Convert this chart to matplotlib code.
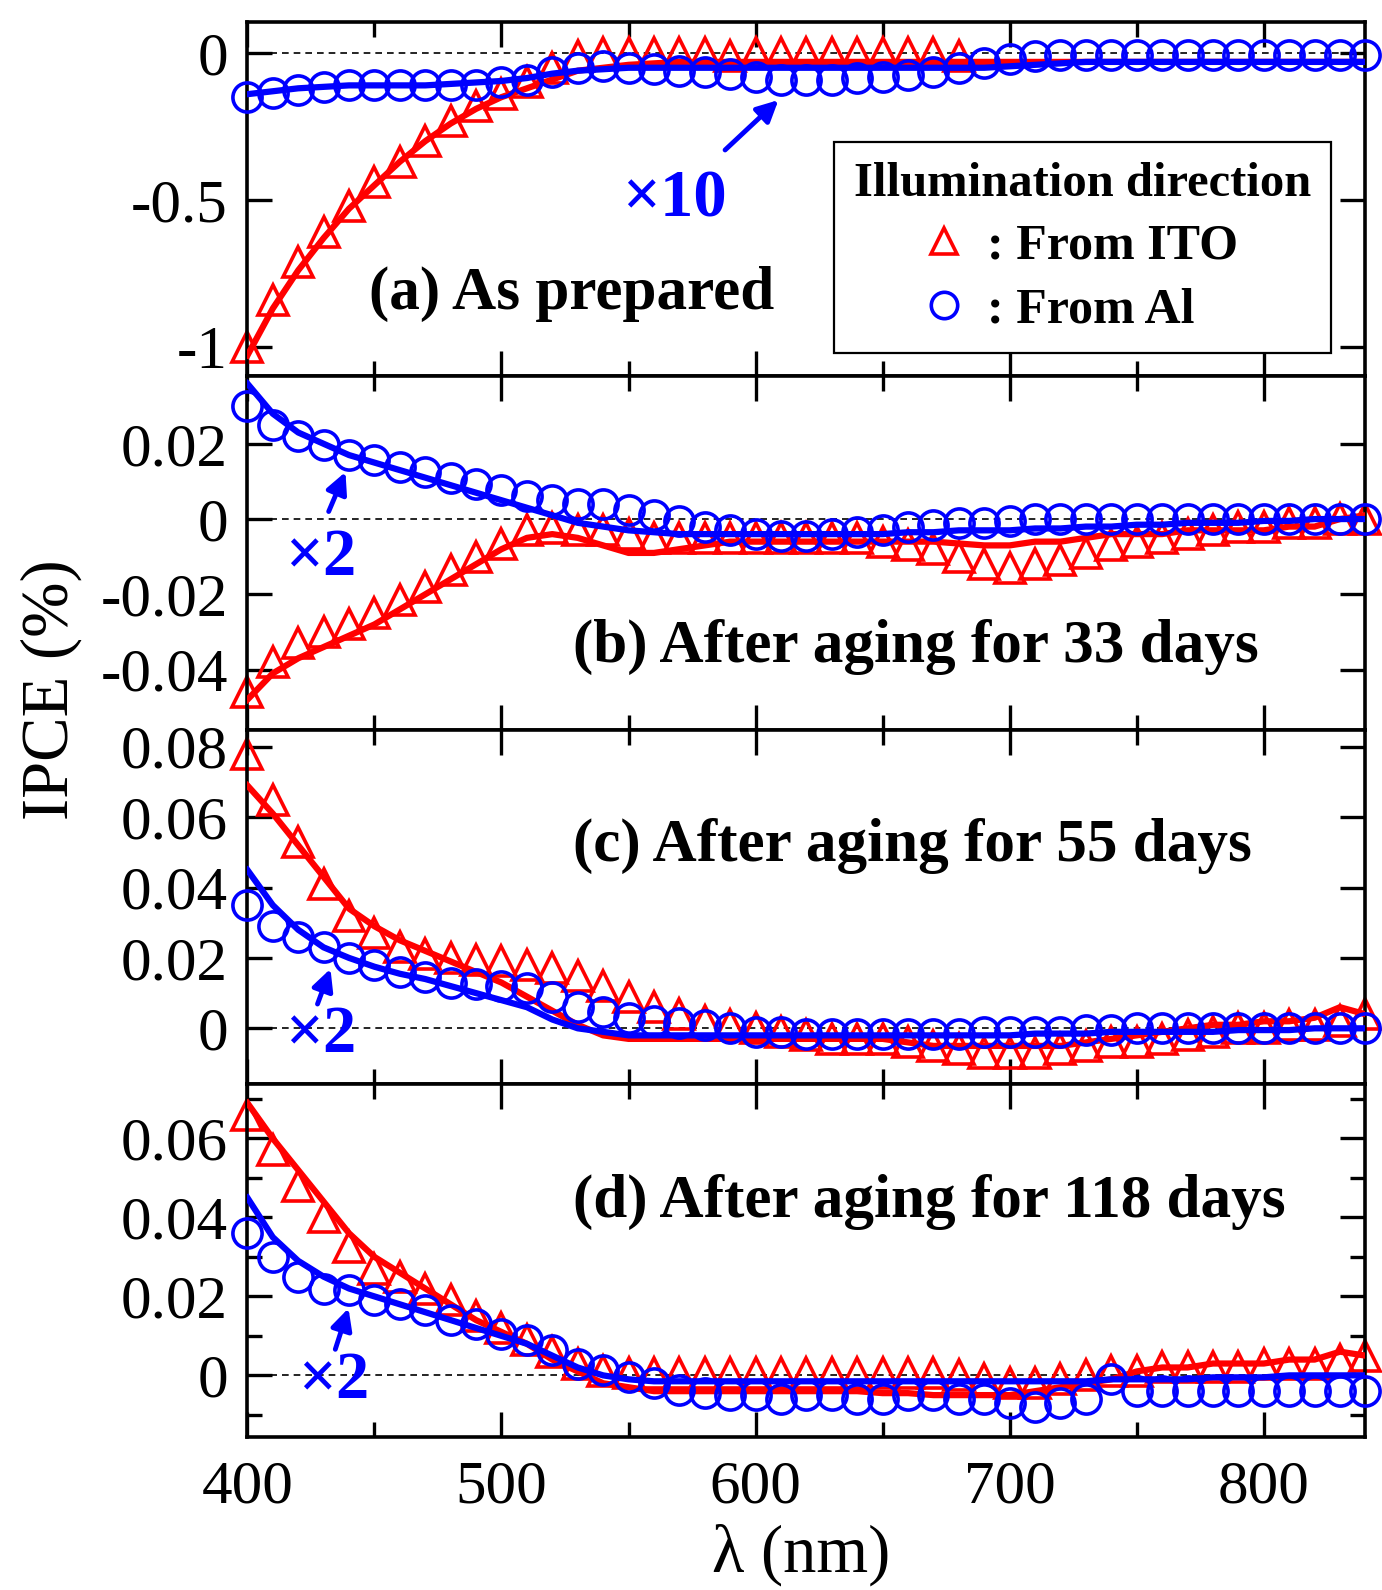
import numpy as np
import matplotlib
matplotlib.use('Agg')
import matplotlib.pyplot as plt
from matplotlib.lines import Line2D
from matplotlib.ticker import FixedLocator, MultipleLocator

plt.rcParams['font.family'] = ['Liberation Serif', 'DejaVu Serif']
plt.rcParams['axes.unicode_minus'] = False

# wavelength grid (nm)
wl = np.arange(400, 841, 10)
nan = np.nan

# (a) as prepared -- Al curve scaled x10 (ITO points beyond 680 nm hidden under the Al ones)
a_ito_pts = [-1.00, -0.84, -0.71, -0.61, -0.52, -0.44, -0.37, -0.30, -0.23, -0.18,
             -0.14, -0.10, -0.05, -0.01, 0.00, 0.00, 0.00, 0.00, 0.00, -0.01,
             0.00, 0.00, 0.00, 0.00, 0.00, 0.00, 0.00, 0.00, -0.01, nan,
             nan, nan, nan, nan, nan, nan, nan, nan, nan, nan,
             nan, nan, nan, nan, nan]
a_ito_fit = [-1.03, -0.87, -0.74, -0.63, -0.53, -0.45, -0.37, -0.30, -0.24, -0.19,
             -0.15, -0.12, -0.09, -0.06, -0.05, -0.04, -0.035, -0.03, -0.03, -0.03,
             -0.03, -0.03, -0.03, -0.03, -0.03, -0.03, -0.03, -0.03, -0.03, -0.03,
             -0.03, -0.03, -0.03, -0.03, -0.03, -0.03, -0.03, -0.03, -0.03, -0.03,
             -0.03, -0.03, -0.03, -0.03, -0.03]
a_al_pts = [-0.15, -0.135, -0.125, -0.115, -0.11, -0.11, -0.11, -0.11, -0.11, -0.11,
            -0.10, -0.09, -0.065, -0.05, -0.045, -0.05, -0.055, -0.06, -0.065, -0.07,
            -0.08, -0.09, -0.09, -0.09, -0.085, -0.08, -0.075, -0.065, -0.05, -0.035,
            -0.02, -0.01, -0.005, -0.005, -0.005, -0.005, -0.005, -0.005, -0.005, -0.005,
            -0.005, -0.005, -0.005, -0.005, -0.005]
a_al_fit = [-0.14, -0.13, -0.12, -0.115, -0.11, -0.11, -0.11, -0.11, -0.105, -0.10,
            -0.095, -0.085, -0.07, -0.06, -0.055, -0.05, -0.05, -0.05, -0.05, -0.05,
            -0.05, -0.05, -0.05, -0.05, -0.05, -0.05, -0.05, -0.05, -0.05, -0.05,
            -0.045, -0.04, -0.035, -0.03, -0.03, -0.03, -0.03, -0.03, -0.03, -0.03,
            -0.03, -0.03, -0.03, -0.03, -0.03]

# (b) 33 days -- Al x2
b_ito_pts = [-0.046, -0.038, -0.033, -0.030, -0.028, -0.025, -0.0215, -0.018, -0.0135, -0.010,
             -0.0065, -0.003, -0.0025, -0.003, -0.003, -0.004, -0.005, -0.005, -0.005, -0.005,
             -0.005, -0.005, -0.005, -0.005, -0.005, -0.006, -0.007, -0.008, -0.010, -0.012,
             -0.013, -0.012, -0.011, -0.009, -0.007, -0.006, -0.005, -0.004, -0.003, -0.002,
             -0.002, -0.001, -0.001, 0.000, 0.000]
b_ito_fit = [-0.048, -0.041, -0.037, -0.034, -0.031, -0.028, -0.024, -0.020, -0.016, -0.012,
             -0.008, -0.005, -0.004, -0.005, -0.007, -0.009, -0.009, -0.008, -0.007, -0.006,
             -0.006, -0.006, -0.006, -0.006, -0.006, -0.006, -0.006, -0.006, -0.0065, -0.007,
             -0.007, -0.006, -0.006, -0.005, -0.004, -0.004, -0.004, -0.003, -0.003, -0.003,
             -0.003, -0.002, -0.002, 0.000, 0.001]
b_al_pts = [0.030, 0.025, 0.022, 0.0197, 0.017, 0.0157, 0.0138, 0.0124, 0.011, 0.0092,
            0.0078, 0.0062, 0.005, 0.004, 0.004, 0.0025, 0.001, -0.0005, -0.002, -0.003,
            -0.004, -0.0045, -0.0045, -0.004, -0.0035, -0.003, -0.002, -0.0015, -0.001, -0.001,
            -0.0005, 0.0, 0.0, 0.0, 0.0, 0.0, 0.0, 0.0, 0.0, 0.0,
            0.0, 0.0, 0.0, 0.0, 0.0]
b_al_fit = [0.036, 0.028, 0.023, 0.020, 0.017, 0.015, 0.013, 0.011, 0.009, 0.007,
            0.005, 0.003, 0.001, -0.001, -0.002, -0.003, -0.0035, -0.004, -0.004, -0.004,
            -0.004, -0.004, -0.004, -0.004, -0.004, -0.004, -0.0035, -0.0035, -0.003, -0.003,
            -0.003, -0.0025, -0.0025, -0.002, -0.002, -0.0015, -0.0015, -0.001, -0.001, -0.001,
            -0.0005, -0.0005, 0.0, 0.0, 0.0]

# (c) 55 days -- Al x2
c_ito_pts = [0.078, 0.065, 0.053, 0.041, 0.032, 0.027, 0.023, 0.021, 0.020, 0.0195,
             0.019, 0.018, 0.017, 0.015, 0.012, 0.009, 0.006, 0.004, 0.002, 0.001,
             0.000, -0.001, -0.002, -0.003, -0.003, -0.003, -0.004, -0.005, -0.006, -0.007,
             -0.007, -0.007, -0.006, -0.005, -0.004, -0.004, -0.003, -0.002, -0.001, 0.000,
             0.000, 0.001, 0.001, 0.002, 0.004]
c_ito_fit = [0.069, 0.061, 0.052, 0.043, 0.034, 0.029, 0.025, 0.022, 0.019, 0.016,
             0.013, 0.009, 0.005, 0.001, -0.002, -0.003, -0.003, -0.003, -0.003, -0.003,
             -0.003, -0.003, -0.003, -0.003, -0.003, -0.003, -0.004, -0.005, -0.005, -0.005,
             -0.005, -0.005, -0.005, -0.004, -0.003, -0.002, -0.001, 0.000, 0.001, 0.001,
             0.002, 0.002, 0.003, 0.006, 0.004]
c_al_pts = [0.035, 0.029, 0.026, 0.023, 0.020, 0.018, 0.016, 0.0146, 0.0128, 0.0125,
            0.012, 0.0115, 0.009, 0.006, 0.0045, 0.003, 0.002, 0.0015, 0.001, 0.000,
            -0.001, -0.001, -0.0015, -0.0015, -0.0015, -0.0015, -0.0015, -0.0015, -0.0015, -0.001,
            -0.001, -0.001, -0.001, -0.0005, -0.0005, 0.0, 0.0, 0.0, 0.0, 0.0,
            0.0, 0.0, 0.0, 0.0, 0.0]
c_al_fit = [0.045, 0.035, 0.028, 0.023, 0.020, 0.0175, 0.0155, 0.014, 0.012, 0.010,
            0.008, 0.006, 0.0025, 0.000, -0.001, -0.002, -0.002, -0.002, -0.002, -0.002,
            -0.002, -0.002, -0.002, -0.002, -0.002, -0.002, -0.002, -0.002, -0.002, -0.002,
            -0.002, -0.0015, -0.0015, -0.0015, -0.001, -0.001, -0.001, -0.001, -0.001, -0.0005,
            -0.0005, -0.0005, 0.0, 0.0, 0.0]

# (d) 118 days -- Al x2
d_ito_pts = [0.066, 0.057, 0.048, 0.040, 0.0325, 0.027, 0.025, 0.022, 0.019, 0.015,
             0.012, 0.009, 0.006, 0.003, 0.001, 0.0005, 0.0005, 0.0005, 0.0005, 0.0005,
             0.0005, 0.0005, 0.0005, 0.0005, 0.0005, 0.0005, 0.0005, 0.0005, 0.000, -0.001,
             -0.002, -0.002, -0.001, 0.000, 0.001, 0.001, 0.002, 0.002, 0.002, 0.002,
             0.003, 0.003, 0.003, 0.004, 0.005]
d_ito_fit = [0.069, 0.060, 0.052, 0.044, 0.036, 0.030, 0.026, 0.022, 0.018, 0.014,
             0.011, 0.008, 0.004, 0.001, -0.002, -0.003, -0.004, -0.004, -0.004, -0.004,
             -0.004, -0.004, -0.004, -0.004, -0.004, -0.0045, -0.0045, -0.005, -0.005, -0.005,
             -0.005, -0.004, -0.003, -0.002, -0.001, 0.001, 0.002, 0.002, 0.003, 0.003,
             0.003, 0.004, 0.004, 0.006, 0.005]
d_al_pts = [0.036, 0.030, 0.025, 0.022, 0.0215, 0.019, 0.018, 0.0165, 0.014, 0.013,
            0.0106, 0.009, 0.0063, 0.003, 0.0013, -0.0005, -0.002, -0.0038, -0.0045, -0.005,
            -0.005, -0.006, -0.005, -0.005, -0.006, -0.006, -0.005, -0.005, -0.006, -0.006,
            -0.007, -0.008, -0.007, -0.006, -0.001, -0.004, -0.004, -0.004, -0.004, -0.004,
            -0.004, -0.004, -0.004, -0.004, -0.004]
d_al_fit = [0.045, 0.035, 0.029, 0.025, 0.022, 0.020, 0.018, 0.016, 0.014, 0.012,
            0.010, 0.008, 0.005, 0.002, 0.000, -0.001, -0.0015, -0.0015, -0.0015, -0.0015,
            -0.0015, -0.0015, -0.0015, -0.0015, -0.0015, -0.0015, -0.0015, -0.0015, -0.0015, -0.0015,
            -0.0015, -0.0015, -0.0015, -0.0015, -0.001, -0.001, -0.001, -0.001, -0.0005, -0.0005,
            -0.0005, 0.0, 0.0, 0.0, 0.0]

panel_titles = ['(a) As prepared', '(b) After aging for 33 days',
                '(c) After aging for 55 days', '(d) After aging for 118 days']
scale_labels = ['×10', '×2', '×2', '×2']
ylims = [(-1.1, 0.105), (-0.056, 0.038), (-0.0157, 0.0848), (-0.0157, 0.0739)]
yticks = [[-1, -0.5, 0], [-0.04, -0.02, 0, 0.02], [0, 0.02, 0.04, 0.06, 0.08], [0, 0.02, 0.04, 0.06]]
yticklabels = [['-1', '-0.5', '0'], ['-0.04', '-0.02', '0', '0.02'],
               ['0', '0.02', '0.04', '0.06', '0.08'], ['0', '0.02', '0.04', '0.06']]
xticks = [400, 500, 600, 700, 800]

series = [(a_ito_pts, a_ito_fit, a_al_pts, a_al_fit),
          (b_ito_pts, b_ito_fit, b_al_pts, b_al_fit),
          (c_ito_pts, c_ito_fit, c_al_pts, c_al_fit),
          (d_ito_pts, d_ito_fit, d_al_pts, d_al_fit)]

# text / arrow placement in data coords
title_pos = [(448, -0.82), (528, -0.0341), (528, 0.0517), (528, 0.0438)]
scale_pos = [(568, -0.50), (429, -0.0104), (429, -0.002), (434, -0.0015)]
arrow_tail = [(588, -0.33), (432, 0.002), (427.6, 0.0069), (434.6, 0.0066)]
arrow_tip = [(609, -0.16), (438.6, 0.0125), (432.7, 0.0169), (439.8, 0.017)]

RED = '#ff0000'
BLUE = '#0000ff'
ms = 21
mew = 2.6

fig, axes = plt.subplots(4, 1, sharex=True, figsize=(13.82, 15.90), dpi=100)
fig.subplots_adjust(left=0.179, right=0.988, top=0.986, bottom=0.096, hspace=0)

for i, ax in enumerate(axes):
    ito_p, ito_f, al_p, al_f = series[i]
    ax.axhline(0, color='black', lw=1.2, ls=(0, (4, 3)), zorder=1)
    ax.plot(wl, ito_p, ls='none', marker='^', ms=ms, mfc='none', mec=RED, mew=mew, zorder=2, clip_on=False)
    ax.plot(wl, ito_f, color=RED, lw=4.5, zorder=3)
    ax.plot(wl, al_p, ls='none', marker='o', ms=ms, mfc='none', mec=BLUE, mew=mew, zorder=4, clip_on=False)
    ax.plot(wl, al_f, color=BLUE, lw=4.5, zorder=5)

    ax.set_xlim(400, 840)
    ax.set_ylim(*ylims[i])
    ax.yaxis.set_major_locator(FixedLocator(yticks[i]))
    ax.set_yticklabels(yticklabels[i])
    ax.xaxis.set_major_locator(FixedLocator(xticks))
    ax.xaxis.set_minor_locator(MultipleLocator(50))
    if i == 3:
        ax.yaxis.set_minor_locator(MultipleLocator(0.01))
    ax.tick_params(which='both', direction='in', top=True, right=True, labelsize=44, width=2.4)
    ax.tick_params(which='major', length=18)
    ax.tick_params(which='minor', length=11)
    ax.tick_params(axis='y', pad=14)
    ax.tick_params(axis='x', pad=16)
    for sp in ax.spines.values():
        sp.set_linewidth(2.6)

    ax.text(title_pos[i][0], title_pos[i][1], panel_titles[i], fontsize=44, fontweight='bold',
            ha='left', va='center', zorder=6)
    ax.text(scale_pos[i][0], scale_pos[i][1], scale_labels[i], fontsize=48, fontweight='bold',
            color=BLUE, ha='center', va='center', zorder=6)
    ax.annotate('', xy=arrow_tip[i], xytext=arrow_tail[i],
                arrowprops=dict(arrowstyle='-|>', color=BLUE, lw=3.5, mutation_scale=32,
                                shrinkA=0, shrinkB=0), zorder=6)

handles = [Line2D([], [], ls='none', marker='^', ms=19, mfc='none', mec=RED, mew=2.6),
           Line2D([], [], ls='none', marker='o', ms=19, mfc='none', mec=BLUE, mew=2.6)]
leg = axes[0].legend(handles, [': From ITO', ': From Al'], title='Illumination direction',
                     loc='upper right', bbox_to_anchor=(0.969, 0.661), borderaxespad=0,
                     prop={'weight': 'bold', 'size': 36},
                     title_fontproperties={'weight': 'bold', 'size': 35},
                     frameon=True, fancybox=False, edgecolor='black', framealpha=1,
                     handlelength=0.7, handletextpad=0.5, borderpad=0.4, labelspacing=0.35)
leg.get_frame().set_linewidth(1.6)
leg.set_zorder(7)

fig.text(0.037, 0.566, 'IPCE (%)', rotation=90, fontsize=48, ha='center', va='center')
fig.text(0.58, 0.022, 'λ (nm)', fontsize=48, ha='center', va='center')

fig.savefig('out.png', dpi=100)
